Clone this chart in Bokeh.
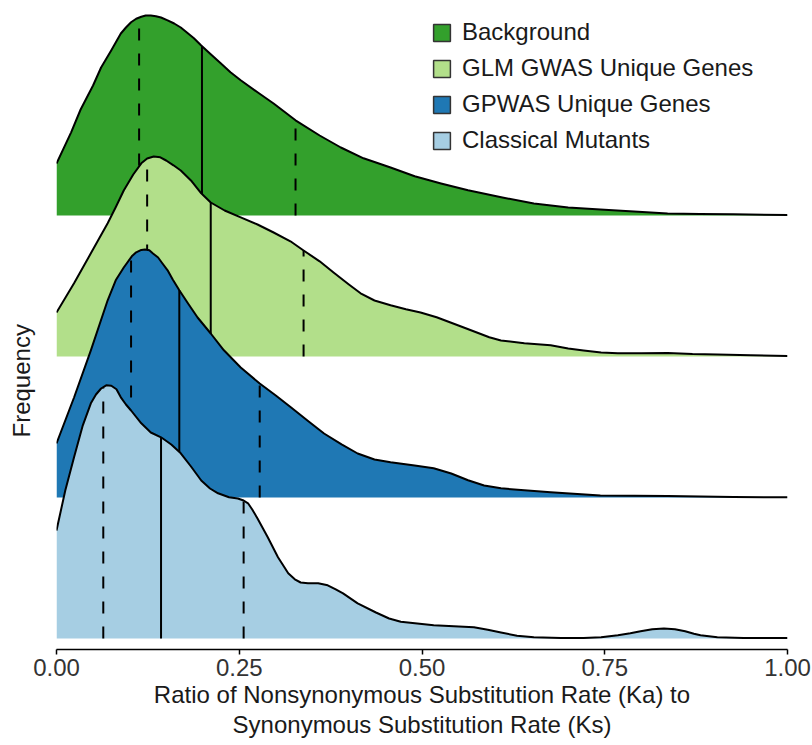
import numpy as np
from bokeh.plotting import figure
from bokeh.models import Range1d, FixedTicker, Legend, LegendItem, Title
from bokeh.embed import file_html
from bokeh.resources import INLINE

# ---------------- data ----------------
groups = ["Background", "GLM GWAS Unique Genes", "GPWAS Unique Genes", "Classical Mutants"]
fill_colors = ["#33a02c", "#b2df8a", "#1f78b4", "#a6cee3"]
ridge_positions = [3, 2, 1, 0]

background_x = [0.000, 0.020, 0.033, 0.050, 0.061, 0.075, 0.088, 0.095, 0.102, 0.109, 0.116,
                0.122, 0.129, 0.136, 0.143, 0.152, 0.161, 0.170, 0.178, 0.188, 0.198, 0.211,
                0.225, 0.238, 0.252, 0.275, 0.297, 0.327, 0.360, 0.389, 0.420, 0.457, 0.490,
                0.526, 0.563, 0.610, 0.653, 0.700, 0.744, 0.790, 0.836, 0.880, 0.926, 1.000]
background_density = [1.30, 2.08, 2.65, 3.25, 3.70, 4.13, 4.55, 4.70, 4.83, 4.92, 4.97,
                      5.00, 5.00, 4.98, 4.95, 4.88, 4.80, 4.70, 4.58, 4.43, 4.25, 4.03,
                      3.80, 3.58, 3.38, 3.08, 2.80, 2.38, 2.00, 1.70, 1.43, 1.20, 0.98,
                      0.80, 0.63, 0.45, 0.30, 0.20, 0.15, 0.10, 0.05, 0.04, 0.03, 0.01]

glm_x = [0.000, 0.024, 0.047, 0.070, 0.081, 0.092, 0.105, 0.116, 0.124, 0.133, 0.142, 0.150,
         0.160, 0.170, 0.185, 0.198, 0.211, 0.230, 0.252, 0.275, 0.297, 0.320, 0.338, 0.360,
         0.379, 0.400, 0.416, 0.435, 0.457, 0.478, 0.498, 0.520, 0.539, 0.558, 0.575, 0.592,
         0.608, 0.640, 0.676, 0.700, 0.721, 0.745, 0.768, 0.800, 0.836, 0.870, 0.904, 0.950,
         1.000]
glm_density = [1.10, 1.83, 2.58, 3.33, 3.73, 4.15, 4.55, 4.83, 4.95, 5.00, 4.98, 4.90,
               4.78, 4.65, 4.38, 4.08, 3.85, 3.65, 3.48, 3.30, 3.10, 2.88, 2.65, 2.38,
               2.10, 1.80, 1.58, 1.40, 1.28, 1.18, 1.10, 0.98, 0.85, 0.72, 0.60, 0.48,
               0.40, 0.33, 0.28, 0.20, 0.15, 0.10, 0.08, 0.08, 0.09, 0.06, 0.05, 0.03,
               0.01]

gpwas_x = [0.000, 0.024, 0.047, 0.070, 0.081, 0.092, 0.103, 0.109, 0.116, 0.121, 0.127,
           0.132, 0.139, 0.145, 0.152, 0.159, 0.168, 0.180, 0.193, 0.211, 0.229, 0.252,
           0.278, 0.300, 0.321, 0.345, 0.366, 0.390, 0.412, 0.435, 0.457, 0.490, 0.516,
           0.540, 0.563, 0.585, 0.608, 0.640, 0.676, 0.744, 0.836, 0.926, 1.000]
gpwas_density = [1.35, 2.50, 3.68, 4.93, 5.43, 5.75, 6.03, 6.13, 6.19, 6.20, 6.18,
                 6.10, 6.00, 5.85, 5.68, 5.45, 5.18, 4.85, 4.50, 4.10, 3.68, 3.25,
                 2.85, 2.55, 2.25, 1.90, 1.60, 1.33, 1.10, 0.95, 0.88, 0.80, 0.73,
                 0.60, 0.43, 0.30, 0.23, 0.18, 0.13, 0.05, 0.04, 0.01, 0.005]

classical_x = [0.000, 0.012, 0.024, 0.036, 0.047, 0.054, 0.061, 0.068, 0.075, 0.082, 0.088,
               0.095, 0.102, 0.116, 0.129, 0.143, 0.157, 0.170, 0.184, 0.198, 0.210, 0.221,
               0.236, 0.248, 0.256, 0.262, 0.268, 0.275, 0.289, 0.303, 0.317, 0.326, 0.334,
               0.344, 0.358, 0.371, 0.382, 0.392, 0.412, 0.437, 0.455, 0.471, 0.516, 0.571,
               0.590, 0.608, 0.630, 0.653, 0.690, 0.721, 0.745, 0.768, 0.785, 0.799, 0.815,
               0.831, 0.846, 0.860, 0.872, 0.881, 0.904, 0.940, 1.000]
classical_density = [2.70, 3.70, 4.53, 5.33, 5.88, 6.10, 6.25, 6.33, 6.32, 6.23, 6.03,
                     5.85, 5.70, 5.38, 5.15, 5.03, 4.85, 4.63, 4.30, 3.95, 3.75, 3.63,
                     3.53, 3.50, 3.45, 3.38, 3.22, 3.00, 2.53, 2.03, 1.63, 1.48, 1.40,
                     1.38, 1.38, 1.33, 1.23, 1.13, 0.88, 0.65, 0.50, 0.42, 0.33, 0.28,
                     0.22, 0.15, 0.07, 0.03, 0.01, 0.01, 0.03, 0.08, 0.13, 0.18, 0.23,
                     0.25, 0.23, 0.18, 0.12, 0.08, 0.03, 0.01, 0.01]

# quartiles: [Q1, median, Q3]
background_quartiles = [0.113, 0.199, 0.327]
glm_quartiles = [0.124, 0.211, 0.338]
gpwas_quartiles = [0.102, 0.168, 0.278]
classical_quartiles = [0.064, 0.143, 0.256]

tick_values = [0.0, 0.25, 0.5, 0.75, 1.0]
tick_labels = ["0.00", "0.25", "0.50", "0.75", "1.00"]

x_title_lines = ["Ratio of Nonsynonymous Substitution Rate (Ka) to",
                 "Synonymous Substitution Rate (Ks)"]
y_title = "Frequency"

series_x = [background_x, glm_x, gpwas_x, classical_x]
series_d = [background_density, glm_density, gpwas_density, classical_density]
series_q = [background_quartiles, glm_quartiles, gpwas_quartiles, classical_quartiles]

# ---------------- layout ----------------
W, H = 812, 745
B_LEFT, B_RIGHT, B_TOP, B_BOTTOM = 56, 25, 2, 96
frame_h = H - B_TOP - B_BOTTOM
SPACING_PX = 141.0          # pixels between ridge baselines
BASE_OFFSET_PX = 11.0       # lowest baseline sits this far above the axis line
DENSITY_SCALE = 40.0 / SPACING_PX  # ridge units per density unit

y_lo = -BASE_OFFSET_PX / SPACING_PX
y_hi = y_lo + frame_h / SPACING_PX

FONT = "Liberation Sans"

p = figure(width=W, height=H, output_backend="svg", toolbar_location=None,
           x_range=Range1d(0, 1), y_range=Range1d(y_lo, y_hi),
           min_border_left=B_LEFT, min_border_right=B_RIGHT,
           min_border_top=B_TOP, min_border_bottom=B_BOTTOM)
p.outline_line_color = None
p.xgrid.visible = False
p.ygrid.visible = False
p.yaxis.visible = False
p.background_fill_color = "white"
p.border_fill_color = "white"

for xs, ds, qs, base, col in zip(series_x, series_d, series_q, ridge_positions, fill_colors):
    xs = np.asarray(xs, float)
    ys = base + np.asarray(ds, float) * DENSITY_SCALE
    px = np.concatenate([[xs[0]], xs, [xs[-1]]])
    py = np.concatenate([[base], ys, [base]])
    p.patch(px, py, fill_color=col, line_color=None)
    p.line(xs, ys, line_color="black", line_width=2, line_join="round")
    tops = base + np.interp(qs, xs, ds) * DENSITY_SCALE
    dashed = [0, 2]
    p.segment(x0=[qs[i] for i in dashed], y0=[base] * 2, x1=[qs[i] for i in dashed],
              y1=[tops[i] for i in dashed], line_color="black", line_width=2,
              line_dash="12 13")
    p.segment(x0=[qs[1]], y0=[base], x1=[qs[1]], y1=[tops[1]],
              line_color="black", line_width=2)

# x axis
ax = p.xaxis[0]
ax.ticker = FixedTicker(ticks=tick_values)
ax.major_label_overrides = {v: s for v, s in zip(tick_values, tick_labels)}
ax.minor_tick_line_color = None
ax.major_tick_in = 0
ax.major_tick_out = 5
ax.major_tick_line_width = 1.5
ax.axis_line_width = 1.5
ax.axis_line_color = "black"
ax.major_tick_line_color = "black"
ax.major_label_text_font = FONT
ax.major_label_text_font_size = "24px"
ax.major_label_text_color = "#333333"
ax.major_label_standoff = 4

# axis titles (as titles in the side panels)
for line, so in zip(x_title_lines, [0, 2]):
    p.add_layout(Title(text=line, align="center", standoff=so, text_font=FONT,
                       text_font_size="24px", text_font_style="normal",
                       text_color="#1a1a1a"), "below")
# empty spacer between the frame and the y title
p.add_layout(Title(text=" ", standoff=9, text_font=FONT, text_font_size="10px"), "left")
p.add_layout(Title(text=y_title, align="left", offset=212, standoff=0, text_font=FONT,
                   text_font_size="24px", text_font_style="normal",
                   text_color="#1a1a1a"), "left")

# legend
items = []
for g, col in zip(groups, fill_colors):
    r = p.rect(x=[0.5], y=[0.5], width=0.1, height=0.1, fill_color=col,
               line_color="#333333", line_width=1.5, visible=False)
    items.append(LegendItem(label=g, renderers=[r]))
legend = Legend(items=items, location=(375, 495), glyph_width=21, glyph_height=21,
                label_standoff=10, spacing=8, padding=0, margin=0,
                border_line_alpha=0, background_fill_alpha=0,
                label_text_font=FONT, label_text_font_size="24px",
                label_text_color="#1a1a1a")
p.add_layout(legend)

open("out.html", "w").write(file_html(p, INLINE))
